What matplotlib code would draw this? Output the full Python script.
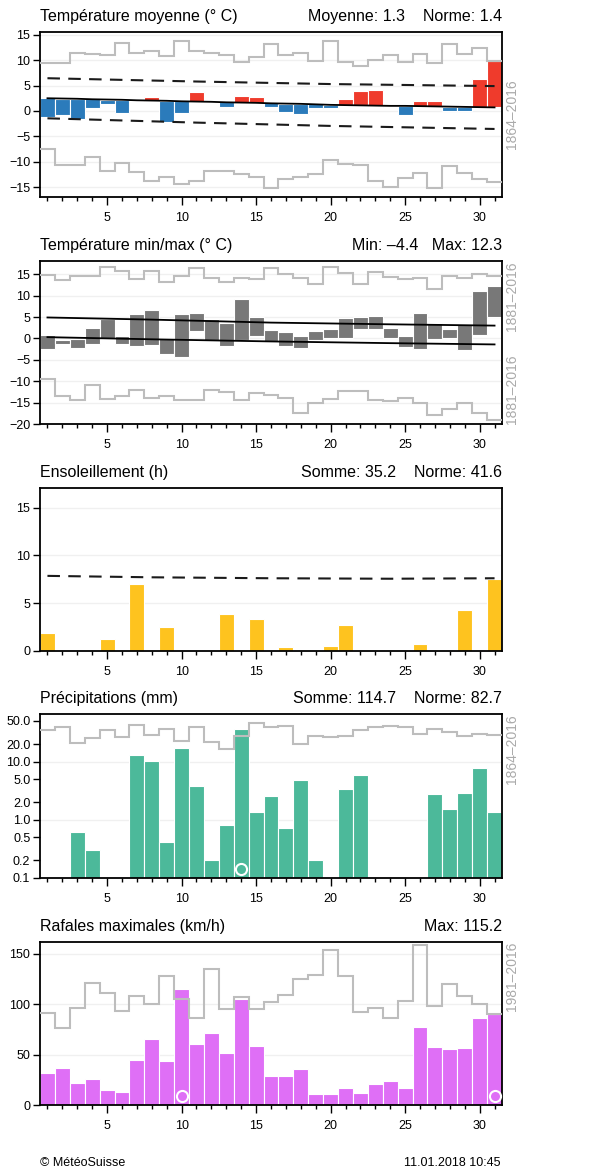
import numpy as np
import matplotlib
matplotlib.use("Agg")
import matplotlib.pyplot as plt
from matplotlib.ticker import MultipleLocator, FixedLocator

plt.rcParams['font.family'] = ['Liberation Sans', 'DejaVu Sans']

days = np.arange(1, 32)

# température moyenne
t_mean = [-1.2, -0.8, -1.6, 0.5, 1.3, -0.5, 2.0, 2.8, -2.1, -0.5, 3.75, 1.7, 0.7, 3.0, 2.8,
          0.8, -0.3, -0.7, 0.65, 0.65, 2.4, 3.9, 4.1, 0.7, -0.85, 2.0, 2.0, 0.0, -0.05, 6.3, 9.9]
t_norm = [2.5, 2.45, 2.4, 2.3, 2.25, 2.2, 2.1, 2.05, 2.0, 1.9, 1.85, 1.8, 1.7, 1.65, 1.6,
          1.5, 1.45, 1.4, 1.3, 1.2, 1.15, 1.1, 1.05, 1.0, 1.0, 0.95, 0.9, 0.85, 0.8, 0.75, 0.7]
t_line_days = [1, 11, 20, 31]
t_upper = [6.45, 5.8, 5.3, 4.9]
t_lower = [-1.45, -2.3, -2.95, -3.55]
t_rec_max = [9.4, 9.5, 11.4, 11.25, 11.05, 13.35, 11.5, 11.8, 10.9, 13.8, 11.8, 11.5, 11.0, 9.7, 10.6,
             13.1, 11.1, 11.5, 9.8, 13.8, 9.7, 8.8, 10.1, 11.0, 9.6, 11.3, 9.4, 13.2, 11.25, 12.5, 9.9]
t_rec_min = [-7.5, -10.7, -10.7, -9.1, -11.8, -10.2, -12.0, -13.9, -13.0, -14.3, -13.75, -11.8, -11.8,
             -12.4, -13.1, -15.2, -13.5, -13.0, -12.5, -9.7, -10.4, -10.7, -13.9, -14.9, -13.3, -12.3,
             -15.2, -10.9, -12.3, -13.5, -14.1]

# température min/max
tn = [-2.5, -1.3, -2.3, -1.4, -0.2, -1.4, -1.7, -1.6, -3.6, -4.4, 1.7, -0.4, -1.7, -0.4, 0.55,
      -0.6, -1.7, -2.2, -0.3, 0.15, 0.15, 2.3, 2.1, 0.0, -2.0, -2.5, -0.15, 0.0, -2.7, 0.8, 4.9]
tx = [0.8, -0.4, -0.15, 2.5, 4.5, 0.6, 5.6, 6.6, 0.15, 5.6, 5.9, 4.5, 3.7, 9.2, 5.0,
      1.9, 1.5, 0.55, 1.7, 2.2, 4.8, 5.0, 5.2, 2.5, 0.55, 5.9, 3.7, 2.1, 3.4, 11.2, 12.3]
mm_line_days = [1, 8, 16, 24, 31]
tx_norm = [4.9, 4.4, 3.7, 3.3, 3.0]
tn_norm = [0.3, -0.2, -0.7, -1.1, -1.4]
tx_rec = [14.8, 13.7, 14.5, 14.7, 16.6, 15.8, 13.9, 15.8, 13.1, 14.7, 16.4, 14.1, 13.3, 14.2, 13.8,
          16.4, 15.0, 14.2, 12.7, 16.6, 15.2, 12.7, 15.5, 14.3, 13.8, 14.1, 11.6, 14.6, 14.1, 15.1, 14.7]
tn_rec = [-9.5, -13.5, -14.3, -10.8, -14.2, -13.4, -12.0, -13.9, -13.4, -14.5, -14.5, -12.0, -12.5,
          -14.5, -12.7, -13.3, -13.9, -17.4, -15.0, -14.1, -12.3, -12.3, -14.5, -14.6, -13.9, -15.0,
          -17.8, -16.4, -15.1, -17.4, -19.0]

# ensoleillement
sun = [1.9, 0, 0, 0, 1.2, 0, 7.0, 0, 2.5, 0, 0, 0, 3.9, 0, 3.3,
       0, 0.35, 0, 0, 0.45, 2.7, 0, 0, 0, 0, 0.75, 0, 0.1, 4.3, 0, 7.5]
sun_line_days = [1, 8, 16, 24, 31]
sun_norm = [7.85, 7.7, 7.6, 7.55, 7.6]

# précipitations
rain = [0, 0, 0.61, 0.30, 0, 0, 12.7, 10.4, 0.41, 17.4, 3.76, 0.2, 0.82, 35.6, 1.34,
        2.5, 0.72, 4.9, 0.2, 0, 3.4, 5.8, 0, 0, 0, 0, 2.77, 1.55, 2.88, 7.67, 1.34]
rain_rec = [35, 39, 20.5, 25.5, 35, 26.2, 43, 29, 36.5, 22.6, 39, 21.8, 16.4, 27.2, 46,
            39, 41, 20, 27.5, 26, 27.5, 34.5, 39.4, 41.5, 39.4, 30, 36.4, 32.5, 27, 30, 29]
rain_marks = [14]

# rafales
gust = [31.5, 36.4, 22.2, 25.5, 14.9, 13.2, 44.7, 65.9, 43.7, 115.2, 60.6, 71.9, 51.7, 105.3, 58.9,
        28.8, 29.1, 36.1, 10.9, 11.3, 16.9, 12.3, 21.2, 23.8, 16.9, 77.8, 57.9, 55.6, 56.6, 86.4, 90.7]
gust_rec = [91, 76, 96, 121, 111.6, 93.4, 108.6, 100, 128, 105, 86, 134.8, 95.4, 107, 95.4,
            102.6, 109, 124.8, 128.5, 153.3, 127.5, 92, 96, 86, 103.3, 158.3, 98.7, 120, 108.6, 100.3, 90]
gust_marks = [10, 31]

BLUE = '#2b7bbb'
RED = '#ef3b2c'
GRAY = '#787878'
YELLOW = '#fec31f'
GREEN = '#4cb99a'
MAGENTA = '#df6ff6'
REC = '#bdbdbd'
LABEL = '#aaaaaa'

W, H = 611, 1174
fig = plt.figure(figsize=(W / 100, H / 100), dpi=100)


def make_axes(top, bottom):
    return fig.add_axes([40 / W, 1 - bottom / H, 462 / W, (bottom - top) / H])


def style(ax, yticks, grid=None):
    ax.set_xlim(0.5, 31.5)
    ax.xaxis.set_major_locator(FixedLocator([5, 10, 15, 20, 25, 30]))
    ax.xaxis.set_minor_locator(MultipleLocator(1))
    ax.set_yticks(yticks)
    ax.tick_params(axis='y', which='major', direction='out', length=5, width=1,
                   labelsize=9, pad=2)
    ax.tick_params(axis='x', which='major', direction='out', length=6, width=1,
                   labelsize=9, pad=5)
    ax.tick_params(axis='x', which='minor', direction='out', length=3, width=1)
    ax.tick_params(axis='y', which='minor', left=False)
    for s in ax.spines.values():
        s.set_linewidth(1.3)
    for g in (grid if grid is not None else yticks):
        ax.axhline(g, color='#f0f0f0', lw=1, zorder=0)


def titles(ax, left, right):
    ax.set_title(left, loc='left', fontsize=11.5, pad=8)
    ax.set_title(right, loc='right', fontsize=11.5, pad=8)


def side_label(ax, text, y, va):
    ax.text(1.006, y, text, transform=ax.transAxes, rotation=90, color=LABEL,
            fontsize=10, ha='left', va=va)


def records(ax, vals):
    ax.stairs(vals, np.arange(0.5, 32.5), baseline=None, color=REC, lw=1.5, zorder=3)


# 1 - température moyenne
ax1 = make_axes(32.3, 196.7)
style(ax1, [-15, -10, -5, 0, 5, 10, 15])
ax1.set_ylim(-16.9, 15.5)
diff = np.array(t_mean) - np.array(t_norm)
cols = [RED if d >= 0 else BLUE for d in diff]
ax1.bar(days, diff, bottom=t_norm, width=1.0, color=cols, edgecolor='white', lw=0.8, zorder=2)
records(ax1, t_rec_max)
records(ax1, t_rec_min)
ax1.plot(t_line_days, t_upper, color='#1a1a1a', lw=1.5, ls=(0, (6, 4)), zorder=4)
ax1.plot(t_line_days, t_lower, color='#1a1a1a', lw=1.5, ls=(0, (6, 4)), zorder=4)
ax1.plot(days, t_norm, color='black', lw=1.3, zorder=4)
titles(ax1, 'Température moyenne (° C)', 'Moyenne: 1.3    Norme: 1.4')
side_label(ax1, '1864–2016', 0.5, 'center')

# 2 - température min/max
ax2 = make_axes(261, 424)
style(ax2, [-20, -15, -10, -5, 0, 5, 10, 15])
ax2.set_ylim(-20, 18.1)
ax2.bar(days, np.array(tx) - np.array(tn), bottom=tn, width=1.0, color=GRAY,
        edgecolor='white', lw=0.8, zorder=2)
records(ax2, tx_rec)
records(ax2, tn_rec)
ax2.plot(mm_line_days, tx_norm, color='black', lw=1.3, zorder=4)
ax2.plot(mm_line_days, tn_norm, color='black', lw=1.3, zorder=4)
titles(ax2, 'Température min/max (° C)', 'Min: –4.4   Max: 12.3')
side_label(ax2, '1881–2016', 1.0, 'top')
side_label(ax2, '1881–2016', 0.0, 'bottom')

# 3 - ensoleillement
ax3 = make_axes(487.7, 650.7)
style(ax3, [0, 5, 10, 15])
ax3.set_ylim(0, 17.1)
ax3.bar(days, sun, width=1.0, color=YELLOW, edgecolor='white', lw=0.8, zorder=2)
ax3.plot(sun_line_days, sun_norm, color='#1a1a1a', lw=1.5, ls=(0, (6, 4)), zorder=4)
titles(ax3, 'Ensoleillement (h)', 'Somme: 35.2    Norme: 41.6')

# 4 - précipitations
ax4 = make_axes(714.3, 877.7)
ax4.set_yscale('log')
ptick = [0.1, 0.2, 0.5, 1.0, 2.0, 5.0, 10.0, 20.0, 50.0]
style(ax4, ptick, grid=[1.0, 10.0])
ax4.set_yticklabels([f'{v:.1f}' for v in ptick])
ax4.yaxis.set_minor_locator(matplotlib.ticker.NullLocator())
ax4.set_ylim(0.1, 65)
rain_h = [v if v > 0 else np.nan for v in rain]
ax4.bar(days, rain_h, width=1.0, color=GREEN, edgecolor='white', lw=0.8, zorder=2)
records(ax4, rain_rec)
ax4.plot(rain_marks, [0.14] * len(rain_marks), 'o', ms=8, mfc='none', mec='white', mew=1.5, zorder=5)
titles(ax4, 'Précipitations (mm)', 'Somme: 114.7    Norme: 82.7')
side_label(ax4, '1864–2016', 1.0, 'top')

# 5 - rafales
ax5 = make_axes(941.7, 1105)
style(ax5, [0, 50, 100, 150])
ax5.set_ylim(0, 162)
ax5.bar(days, gust, width=1.0, color=MAGENTA, edgecolor='white', lw=0.8, zorder=2)
records(ax5, gust_rec)
ax5.plot(gust_marks, [8.5] * len(gust_marks), 'o', ms=8, mfc='none', mec='white', mew=1.5, zorder=5)
titles(ax5, 'Rafales maximales (km/h)', 'Max: 115.2')
side_label(ax5, '1981–2016', 1.0, 'top')

fig.text(40 / W, 1 - 1163 / H, '© MétéoSuisse', fontsize=9, va='center', ha='left')
fig.text(500 / W, 1 - 1163 / H, '11.01.2018 10:45', fontsize=9, va='center', ha='right')

fig.savefig('out.png', dpi=100)
